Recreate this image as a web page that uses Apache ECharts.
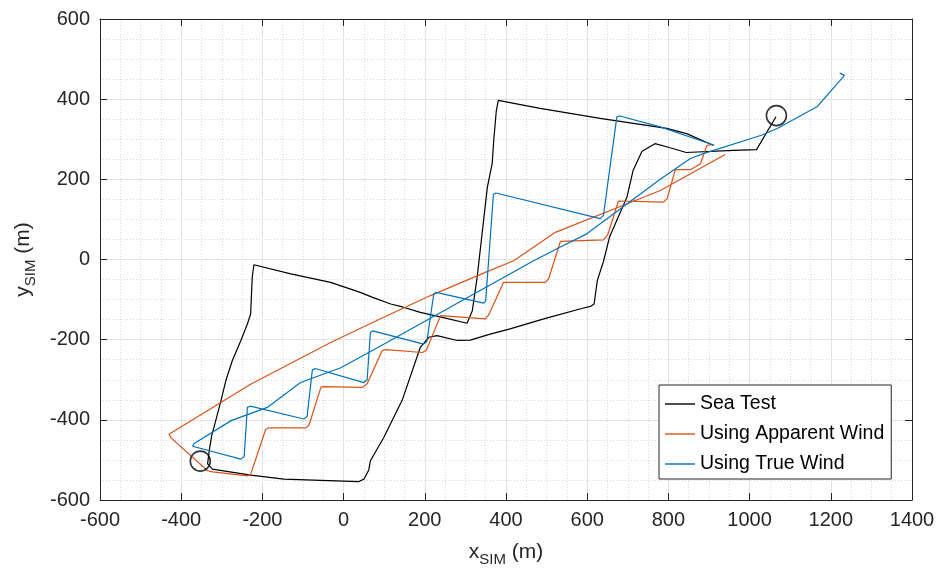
<!DOCTYPE html>
<html>
<head>
<meta charset="utf-8">
<script src="https://cdn.jsdelivr.net/npm/echarts@6/dist/echarts.min.js"></script>
<style>
  html, body { margin: 0; padding: 0; background: #fff; }
  #chart { width: 942px; height: 574px; }
</style>
</head>
<body>
<div id="chart"></div>
<script>
// axis ranges
const xRange = [-600, 1400];
const yRange = [-600, 600];
const tickStep = 200;

// sea test track (x, y in metres)
const seaTest = [
  [910, 285], [845, 314], [796, 327], [632, 352], [484, 377], [381, 397],
  [376, 370], [370, 300], [366, 240], [354, 180], [329, -44], [317, -128], [304, -159],
  [246, -145], [189, -132], [147, -119], [116, -111], [70, -94], [41, -82], [-32, -57],
  [-130, -36], [-221, -13],
  [-225, -44], [-229, -136], [-237, -161], [-253, -202], [-274, -252], [-290, -302],
  [-302, -352], [-315, -402], [-325, -440], [-331, -477], [-335, -510], [-323, -523],
  [-229, -538], [-147, -548], [-56, -551], [38, -554], [50, -548], [62, -525], [66, -502],
  [99, -444], [135, -370], [144, -352], [189, -219], [210, -194], [230, -190], [280, -202],
  [312, -201], [361, -186], [410, -173], [493, -148], [591, -121], [608, -117], [617, -111],
  [625, -52], [640, -5], [655, 56], [698, 156], [713, 222], [735, 270], [767, 289],
  [800, 280], [844, 267], [960, 272], [1017, 274], [1065, 356]
];

// simulation using apparent wind
const apparentWind = [
  [940, 262], [780, 172], [520, 67], [419, -3], [349, -32], [214, -90], [91, -148],
  [-32, -207], [-229, -311], [-430, -436],
  [-425, -445], [-335, -527], [-323, -530], [-237, -540], [-229, -536],
  [-192, -424], [-185, -420], [-93, -420], [-85, -413],
  [-56, -319], [-50, -317], [46, -319], [58, -310],
  [95, -227], [104, -225], [194, -232], [204, -226],
  [239, -140], [349, -148], [357, -139],
  [394, -57], [497, -57], [505, -48],
  [534, 45], [640, 49], [650, 60],
  [677, 146], [788, 143], [797, 152],
  [817, 224], [854, 224], [879, 239], [895, 285], [911, 287]
];

// simulation using true wind
const trueWind = [
  [1222, 465], [1233, 460], [1230, 455], [1166, 381], [1068, 327], [1029, 310],
  [886, 264], [854, 252], [780, 200], [599, 64], [534, 31], [468, -3],
  [91, -216], [-7, -270], [-106, -307], [-188, -369], [-277, -402], [-368, -459],
  [-372, -466], [-253, -498], [-245, -492],
  [-237, -369], [-230, -366], [-98, -398], [-90, -392],
  [-77, -276], [-70, -272], [50, -307], [58, -300],
  [66, -182], [72, -178], [197, -211], [205, -205],
  [222, -86], [228, -82], [345, -109], [350, -103],
  [369, 162], [375, 166], [632, 102], [640, 110],
  [673, 356], [680, 358], [780, 331], [913, 285]
];

// start / end markers
const markers = [[-353, -503], [1066, 359]];

const seriesNames = ['Sea Test', 'Using Apparent Wind', 'Using True Wind'];
const seriesColors = ['#000000', '#D95319', '#0072BD'];

const font = 'Liberation Sans, Arial, sans-serif';
const ink = '#262626';

const chart = echarts.init(document.getElementById('chart'), null, { renderer: 'canvas' });

function axisPair(range, mainPos, sidePos) {
  const main = {
    type: 'value',
    position: mainPos,
    min: range[0],
    max: range[1],
    interval: tickStep,
    axisLine: { show: true, onZero: false, lineStyle: { color: ink, width: 1 } },
    axisTick: { show: true, inside: true, length: 7, lineStyle: { color: ink } },
    axisLabel: {
      fontSize: 20, color: ink, fontFamily: font, margin: 10,
      formatter: (v) => String(v)
    },
    splitLine: { show: true, lineStyle: { color: '#e2e2e2', width: 1 } },
    minorTick: { show: false, splitNumber: 4 },
    minorSplitLine: { show: true, lineStyle: { color: '#d9d9d9', width: 1, type: [1, 2] } }
  };
  const side = {
    type: 'value',
    position: sidePos,
    min: range[0],
    max: range[1],
    interval: tickStep,
    axisLine: { show: true, onZero: false, lineStyle: { color: ink, width: 1 } },
    axisTick: { show: true, inside: true, length: 7, lineStyle: { color: ink } },
    axisLabel: { show: false },
    splitLine: { show: false }
  };
  return [main, side];
}

const xs = axisPair(xRange, 'bottom', 'top');
const ys = axisPair(yRange, 'left', 'right');

const nameRich = {
  n: { fontSize: 21, color: ink, fontFamily: font },
  s: { fontSize: 15, color: ink, fontFamily: font, padding: [14, 0, 0, 0] }
};

xs[0].name = '{n|x}{s|SIM}{n| (m)}';
xs[0].nameLocation = 'middle';
xs[0].nameGap = 38;
xs[0].nameTextStyle = { rich: nameRich };

ys[0].name = '{n|y}{s|SIM}{n| (m)}';
ys[0].nameLocation = 'middle';
ys[0].nameGap = 62;
ys[0].nameTextStyle = { rich: nameRich };

const tracks = [seaTest, apparentWind, trueWind];

const option = {
  animation: false,
  backgroundColor: '#ffffff',
  grid: { left: 100, right: 30, top: 19, bottom: 74, containLabel: false },
  xAxis: xs,
  yAxis: ys,
  legend: {
    data: seriesNames.map((n) => ({ name: n, icon: 'rect' })),
    orient: 'vertical',
    left: 659,
    top: 385,
    padding: [9, 7, 5, 6],
    itemWidth: 30,
    itemHeight: 1.4,
    itemGap: 10,
    backgroundColor: '#ffffff',
    borderColor: ink,
    borderWidth: 1,
    borderRadius: 0,
    textStyle: { fontSize: 19.5, lineHeight: 19, color: '#000', fontFamily: font }
  },
  series: tracks.map((d, i) => ({
    name: seriesNames[i],
    type: 'line',
    data: d,
    symbol: 'none',
    smooth: false,
    color: seriesColors[i],
    itemStyle: { color: seriesColors[i] },
    lineStyle: { color: seriesColors[i], width: 1.2 },
    silent: true
  })).concat([{
    type: 'scatter',
    data: markers,
    symbol: 'circle',
    symbolSize: 20,
    itemStyle: { color: 'rgba(0,0,0,0)', borderColor: '#000', borderWidth: 1.6 },
    silent: true,
    z: 5
  }])
};

chart.setOption(option);
window.addEventListener('resize', function () {
  chart.resize();
});
</script>
</body>
</html>
